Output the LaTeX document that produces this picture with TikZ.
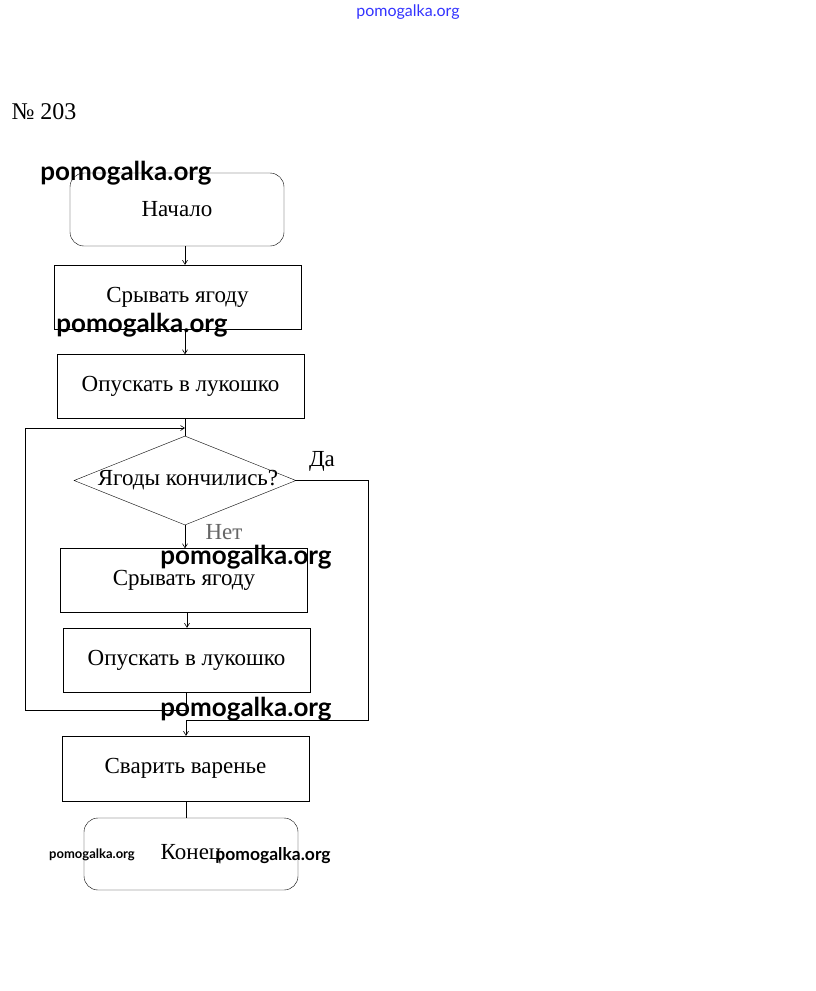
\documentclass[tikz,border=0pt]{standalone}
\usepackage{fontspec}
\setmainfont{Liberation Serif}
\newfontfamily\wmfont{Lato}
\usetikzlibrary{shapes.geometric, arrows.meta, positioning}

\begin{document}
\begin{tikzpicture}[x=1pt, y=-1pt,
    every node/.style={font=\fontsize{23}{26}\selectfont},
    block/.style={draw, rectangle, minimum width=247pt, minimum height=64pt, inner sep=0pt},
    term/.style={draw, rectangle, rounded corners=14pt, minimum width=214pt, minimum height=73pt, inner sep=0pt},
    flow/.style={-{Straight Barb[length=4pt, width=5pt]}, line width=0.6pt},
    wmark/.style={font=\wmfont\bfseries\fontsize{26}{28}\selectfont, inner sep=0pt}]

\useasboundingbox (0,0) rectangle (815,991);

% Heading
\node[font=\fontsize{24}{26}\selectfont, inner sep=0pt] (num) at (44,112) {№ 203};

% Blocks of the chart
\node[term] (start) at (177,209.5) {Начало};
\node[block] (pick1) at (177.5,297) {Срывать ягоду};
\node[block] (put1) at (180.5,386.5) {Опускать в лукошко};
\node[draw, diamond, minimum width=222pt, minimum height=89pt, inner sep=0pt] (check) at (185,480.5) {};
\node (checktext) at (188,480) {Ягоды кончились?};
\node[block] (pick2) at (184,580.5) {Срывать ягоду};
\node[block] (put2) at (186.5,660) {Опускать в лукошко};
\node[block, minimum height=65pt] (cook) at (185.5,768.5) {Сварить варенье};
\node[term, minimum height=72pt] (finish) at (191,854) {Конец};

% Branch labels
\node (yes) at (322,461) {Да};
\node[text=black!60] (no) at (224,532) {Нет};

% Helper points for the loops
\coordinate (loopbot) at (186,710);
\coordinate (loopleft) at (25,710);
\coordinate (looptop) at (25,428);
\coordinate (loopin) at (185,428);
\coordinate (yesright) at (368,480.5);
\coordinate (yesbot) at (368,720);
\coordinate (yesin) at (186,720);

% Straight connectors
\draw[flow] (start.south -| 185,0) -- (pick1.north -| 185,0);
\draw[flow] (pick1.south -| 185,0) -- (put1.north -| 185,0);
\draw[line width=0.6pt] (put1.south -| 185,0) -- (check.north);
\draw[flow] (check.south) -- (pick2.north -| 185,0);
\draw[flow] (pick2.south -| 187,0) -- (put2.north -| 187,0);
\draw[flow] (yesin) -- (cook.north -| yesin);
\draw[line width=0.6pt] (cook.south -| 186,0) -- (finish.north -| 186,0);

% Loop back and exit
\draw[flow] (put2.south -| loopbot) -- (loopbot) -- (loopleft) -- (looptop) -- (loopin);
\draw[line width=0.6pt] (check.east) -- (yesright) -- (yesbot) -- (yesin);

% Watermarks
\node[font=\wmfont\fontsize{16}{17}\selectfont, text=blue!80, inner sep=0pt] (wmtop) at (408,12) {pomogalka.org};
\node[wmark] (wm1) at (126,173) {pomogalka.org};
\node[wmark] (wm2) at (142,325) {pomogalka.org};
\node[wmark] (wm3) at (246,557) {pomogalka.org};
\node[wmark] (wm4) at (246,709) {pomogalka.org};
\node[wmark, font=\wmfont\bfseries\fontsize{13}{14}\selectfont] (wm5) at (92,855) {pomogalka.org};
\node[wmark, font=\wmfont\bfseries\fontsize{17.5}{19}\selectfont] (wm6) at (273,856) {pomogalka.org};

\end{tikzpicture}
\end{document}
